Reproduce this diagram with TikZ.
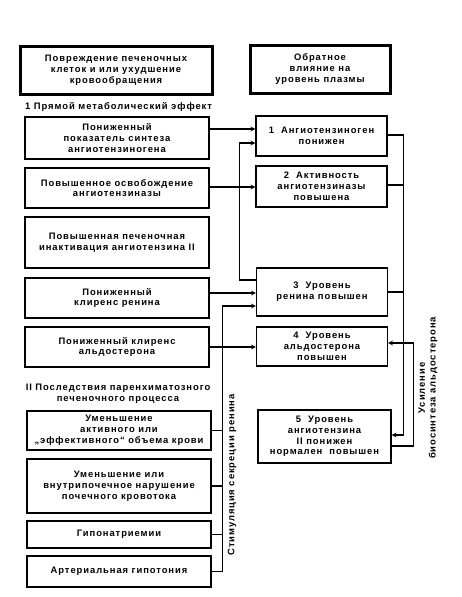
\documentclass[tikz,border=0pt]{standalone}
\usepackage{fontspec}
\setmainfont{Liberation Sans}[LetterSpace=10]
\usetikzlibrary{arrows}

\begin{document}
\begin{tikzpicture}[
  x=1pt, y=-1pt, >=stealth,
  every node/.style={align=center,inner sep=0pt,font=\fontsize{9.4}{10.8}\selectfont\bfseries},
  headbox/.style={draw,line width=3pt,minimum height=48pt},
  lbox/.style={draw,line width=1.4pt,minimum width=184pt},
  rbox/.style={draw,line width=1.4pt,minimum width=131pt},
  link/.style={line width=1.1pt}
]
  \useasboundingbox (0,0) rectangle (461,597);

  \node[headbox,minimum width=192pt] (hcell) at (116,70) {Повреждение печеночных\\клеток и или ухудшение\\кровообращения};
  \node[headbox,minimum width=140pt] (hplasma) at (320,69) {Обратное\\влияние на\\уровень плазмы};

  \node[anchor=west] (sec1) at (25,107) {1 Прямой метаболический эффект};

  \node[lbox,minimum height=42pt] (L1) at (117,138) {Пониженный\\показатель синтеза\\ангиотензиногена};
  \node[lbox,minimum height=40pt] (L2) at (117,188) {Повышенное освобождение\\ангиотензиназы};
  \node[lbox,minimum height=51pt] (L3) at (117,242.5) {Повышенная печеночная\\инактивация ангиотензина II};
  \node[lbox,minimum height=40pt] (L4) at (117,298) {Пониженный\\клиренс ренина};
  \node[lbox,minimum height=40pt] (L5) at (117,347) {Пониженный клиренс\\альдостерона};

  \node (sec2) at (118,394) {II Последствия паренхиматозного\\печеночного процесса};

  \node[lbox,minimum height=39pt] (L6) at (119,430.5) {Уменьшение\\активного или\\„эффективного“ объема крови};
  \node[lbox,minimum height=54pt] (L7) at (119,486) {Уменьшение или\\внутрипочечное нарушение\\почечного кровотока};
  \node[lbox,minimum height=27pt] (L8) at (119,534.5) {Гипонатриемии};
  \node[lbox,minimum height=31pt] (L9) at (119,571.5) {Артериальная гипотония};

  \node[rbox,minimum height=40pt] (R1) at (321.5,136) {1\ \ Ангиотензиноген\\понижен};
  \node[rbox,minimum height=41pt] (R2) at (321.5,186.5) {2\ \ Активность\\ангиотензиназы\\повышена};
  \node[rbox,minimum height=48pt] (R3) at (322,292) {3\ \ Уровень\\ренина повышен};
  \node[rbox,minimum height=39pt] (R4) at (322,346.5) {4\ \ Уровень\\альдостерона\\повышен};
  \node[rbox,minimum height=53pt,minimum width=133pt] (R5) at (324.5,436.5) {5\ \ Уровень\\ангиотензина\\II понижен\\нормален\ \ повышен};

  % direct effects
  \draw[link,->] ([yshift=9pt]L1.east) -- ([yshift=9pt]L1.east -| R1.west);
  \draw[link,->] ([yshift=1pt]L2.east) -- ([yshift=1pt]L2.east -| R2.west);
  \draw[link,->] ([yshift=5pt]L4.east) -- ([yshift=5pt]L4.east -| R3.west);
  \draw[link,->] (L5.east) -- (L5.east -| R4.west);
  \draw[link,->] ([yshift=12pt]R3.west) -- ++(-16,0) |- ([yshift=-7pt]R1.west);

  % renin secretion
  \draw[link,->] (L9.east) -- ++(11,0) |- ([yshift=-14pt]R3.west);
  \draw[link] (L6.east) -- ++(11,0);
  \draw[link] (L7.east) -- ++(11,0);
  \draw[link] (L8.east) -- ++(11,0);
  \node[rotate=90] (stim) at (232,475) {Стимуляция секреции ренина};

  % feedback
  \draw[link,->] ([yshift=1pt]R1.east) -- ++(16,0) |- ([yshift=1.5pt]R5.east);
  \draw[link] ([yshift=1.5pt]R2.east) -- ++(16,0);
  \draw[link] (R3.east) -- ++(15,0);
  \draw[link,->] ([yshift=-9.5pt]R5.east) -- ++(22,0) |- ([yshift=3.5pt]R4.east);
  \node[rotate=90] (aldo) at (428,388) {Усиление\\биосинтеза альдостерона};
\end{tikzpicture}
\end{document}
